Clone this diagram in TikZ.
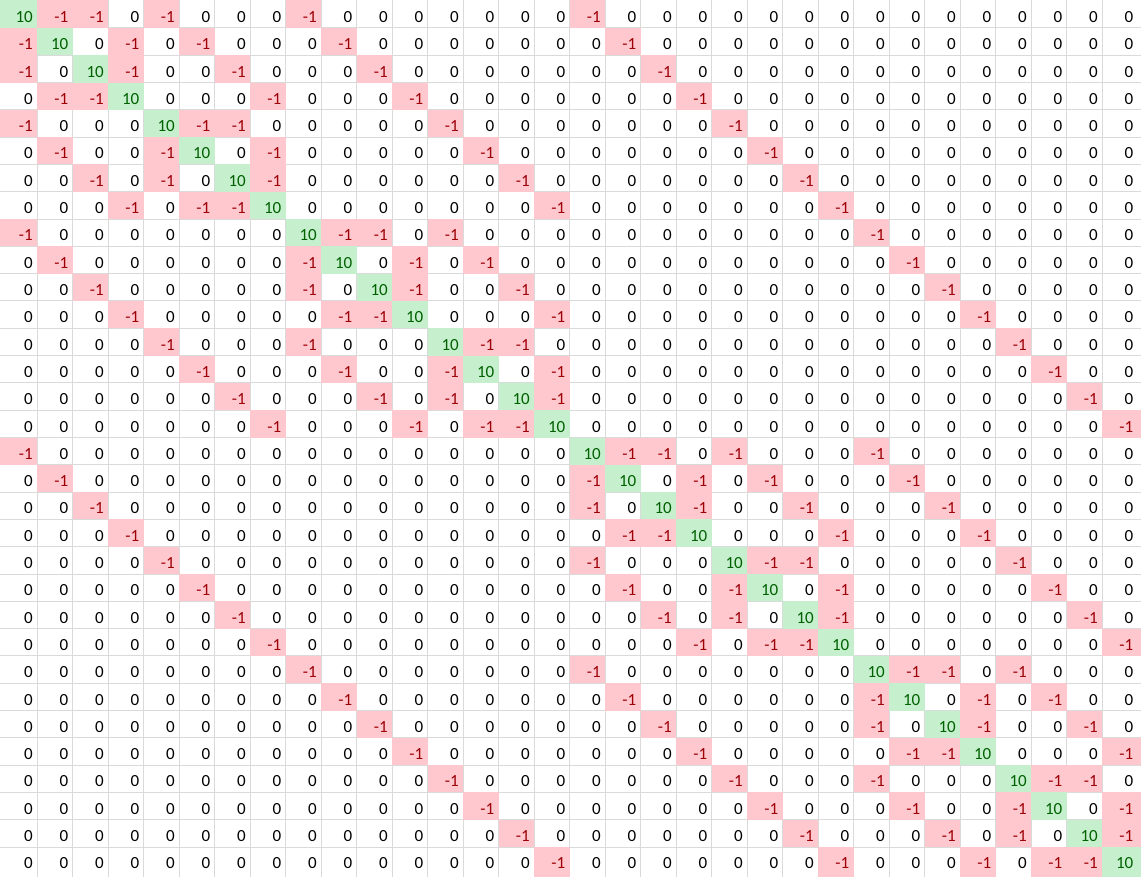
\documentclass[tikz,border=0pt]{standalone}
\usepackage{fontspec}
\setmainfont{Carlito}
\usepackage{xcolor}
\definecolor{goodfill}{HTML}{C6EFCE}
\definecolor{goodtext}{HTML}{006100}
\definecolor{badfill}{HTML}{FFC7CE}
\definecolor{badtext}{HTML}{9C0006}
\definecolor{gridgray}{HTML}{DADADA}
\tikzstyle{cell} = [anchor=base east, inner sep=0pt, font=\fontsize{17}{20}\selectfont]
\tikzstyle{good} = [cell, text=goodtext]
\tikzstyle{bad} = [cell, text=badtext]
\tikzstyle{zero} = [cell, text=black]
\tikzstyle{gridline} = [gridgray, line width=1pt]

\begin{document}
\begin{tikzpicture}[x=1pt, y=-1pt]

  \useasboundingbox (0,0) rectangle (1141,877);
  \fill[white] (0,0) rectangle (1141,877);

  \foreach \k in {1,...,31} {
    \draw [gridline] ({1.5+35.5*\k},0) -- ({1.5+35.5*\k},877);
    \draw [gridline] (0,{0.7+27.3*\k}) -- (1141,{0.7+27.3*\k});
  }

  \foreach \r in {0,...,31} {
    \foreach \c in {0,...,31} {
      \pgfmathtruncatemacro\d{abs(mod(floor(\r/16),2)-mod(floor(\c/16),2))
        + abs(mod(floor(\r/8),2)-mod(floor(\c/8),2))
        + abs(mod(floor(\r/4),2)-mod(floor(\c/4),2))
        + abs(mod(floor(\r/2),2)-mod(floor(\c/2),2))
        + abs(mod(\r,2)-mod(\c,2))}
      \pgfmathsetmacro\xl{(\c==0) ? 0 : (1.5+35.5*\c)}
      \pgfmathsetmacro\xr{(\c==31) ? 1141 : (1.5+35.5*(\c+1))}
      \pgfmathsetmacro\yt{(\r==0) ? 0 : (0.7+27.3*\r)}
      \pgfmathsetmacro\yb{(\r==31) ? 877 : (0.7+27.3*(\r+1))}
      \pgfmathsetmacro\tx{1.5+35.5*(\c+1)-4}
      \pgfmathsetmacro\ty{0.7+27.3*(\r+1)-5.5}
      \ifnum\d=0
        \fill [goodfill] (\xl,\yt) rectangle (\xr,\yb);
        \node (m-\r-\c) [good] at (\tx,\ty) {10};
      \else\ifnum\d=1
        \fill [badfill] (\xl,\yt) rectangle (\xr,\yb);
        \node (m-\r-\c) [bad] at (\tx,\ty) {-1};
      \else
        \node (m-\r-\c) [zero] at (\tx,\ty) {0};
      \fi\fi
    }
  }

\end{tikzpicture}
\end{document}
